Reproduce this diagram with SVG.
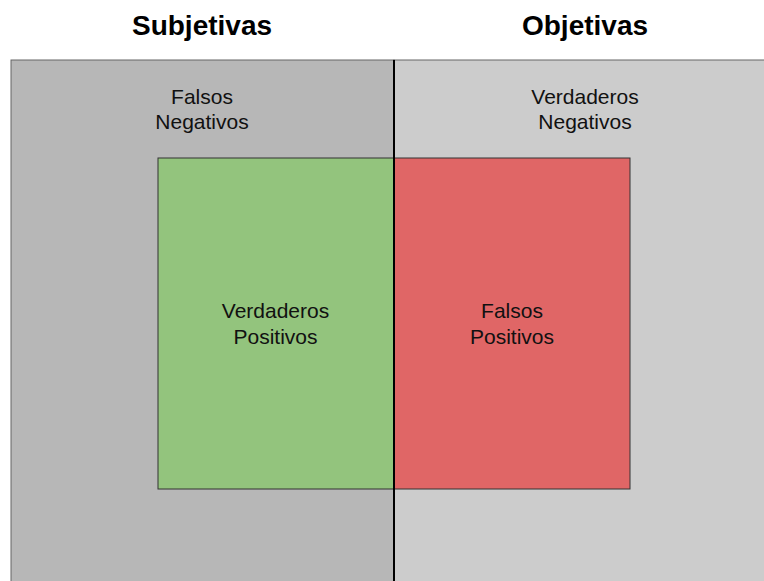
<svg xmlns="http://www.w3.org/2000/svg" width="764" height="581" viewBox="0 0 764 581">
<style>
.t{font-family:"Liberation Sans",Arial,sans-serif;fill:#000;text-anchor:middle}
.h{font-size:28px;font-weight:bold}
.l{font-size:21px;fill:#111}
.box{stroke:#333;stroke-width:1}
</style>
<rect width="764" height="581" fill="#fff"/>
<g id="titles">
<text class="t h" x="202" y="35">Subjetivas</text>
<text class="t h" x="585" y="35">Objetivas</text>
</g>
<g id="subjetivas">
<rect x="11" y="60" width="383" height="530" fill="#b7b7b7" stroke="#666" stroke-width="1"/>
<text class="t l" x="202" y="104">Falsos</text>
<text class="t l" x="202" y="129">Negativos</text>
</g>
<g id="objetivas">
<rect x="394" y="60" width="380" height="530" fill="#cccccc" stroke="#666" stroke-width="1"/>
<text class="t l" x="585" y="104">Verdaderos</text>
<text class="t l" x="585" y="129">Negativos</text>
</g>
<g id="verdaderos-positivos">
<rect class="box" x="158" y="158" width="236" height="331" fill="#93c47d"/>
<text class="t l" x="275.5" y="318">Verdaderos</text>
<text class="t l" x="275.5" y="344">Positivos</text>
</g>
<g id="falsos-positivos">
<rect class="box" x="394" y="158" width="236" height="331" fill="#e06666"/>
<text class="t l" x="512" y="318">Falsos</text>
<text class="t l" x="512" y="344">Positivos</text>
</g>
<g id="connectors">
<line x1="394" y1="60" x2="394" y2="581" stroke="#000" stroke-width="2"/>
</g>
</svg>
